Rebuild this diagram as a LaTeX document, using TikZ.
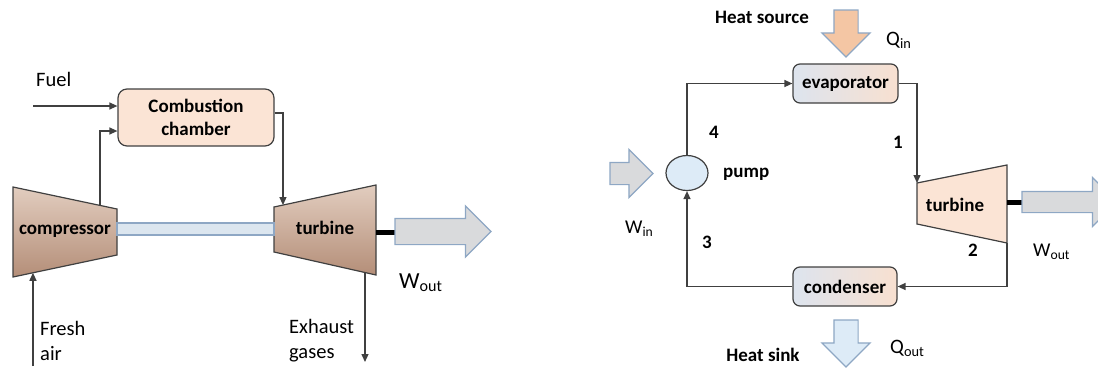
\documentclass[tikz,border=0pt]{standalone}
\usepackage{fontspec}
\setmainfont{Carlito}
\usetikzlibrary{arrows.meta,positioning,shapes.geometric,shapes.arrows,calc}

\definecolor{linea}{HTML}{404040}
\definecolor{pesca}{HTML}{FBE4D5}
\definecolor{pescaQ}{HTML}{F4C6A4}
\definecolor{azzurro}{HTML}{DDEBF7}
\definecolor{grigio}{HTML}{D9DADC}
\definecolor{bordoblu}{HTML}{8EA7C4}
\definecolor{marrone1}{HTML}{E2CDBF}
\definecolor{marrone2}{HTML}{B48E78}
\definecolor{gradsx}{HTML}{DDE4EE}
\definecolor{gradmid}{HTML}{CF9B7A}
\definecolor{graddx}{HTML}{F8E0D0}

\tikzset{
    flow/.style={draw=linea, line width=1.3pt, -{Triangle[length=8pt,width=7pt]}},
    lbl/.style={font=\fontsize{20.5}{25}\selectfont, inner sep=0pt},
    bld/.style={font=\bfseries\fontsize{19}{23}\selectfont, inner sep=0pt},
    machine/.style={draw=linea, line width=1.2pt, top color=marrone1, bottom color=marrone2},
    bigarrow/.style={single arrow, draw=bordoblu, line width=1.2pt, fill=grigio,
        inner xsep=0pt, outer sep=0pt, minimum height=#1, anchor=tail},
    scambiatore/.style={draw=linea, line width=1.2pt, rounded corners=7pt,
        left color=gradsx, middle color=gradmid, right color=graddx,
        minimum width=105pt, minimum height=39pt, inner sep=0pt, font=\bfseries\fontsize{19}{23}\selectfont}
}

\begin{document}
\begin{tikzpicture}[x=1pt,y=-1pt]
    \useasboundingbox (0,0) rectangle (1098,367);
    \clip (0,0) rectangle (1098,367);

    % ---- Turbina a gas ----
    % Camera di combustione
    \node[draw=linea, line width=1.2pt, fill=pesca, rounded corners=9pt,
          minimum width=156pt, minimum height=57pt, align=center,
          font=\bfseries\fontsize{19}{23}\selectfont] (cc) at (196,117.5) {Combustion\\chamber};

    % Compressore
    \draw[machine] (13,187) coordinate (cmpA) -- (117,209) coordinate (cmpB)
        -- (117,255) coordinate (cmpC) -- (13,277) coordinate (cmpD) -- cycle;
    \node[bld] (cmp) at (65,231) {compressor};

    % Turbina
    \draw[machine] (274,207) coordinate (tbA) -- (376,185) coordinate (tbB)
        -- (376,275) coordinate (tbC) -- (274,252) coordinate (tbD) -- cycle;
    \node[bld] (tb) at (325,228) {turbine};

    % Albero
    \draw[draw=bordoblu, line width=1.2pt, fill=azzurro!70!grigio] (cmpB|-0,223) rectangle (tbA|-0,235);
    \draw[line width=5pt] (376,232) -- (395,232);
    \node[bigarrow=96pt, inner ysep=12.5pt, single arrow head extend=12.5pt] (wout1) at (395,231.5) {};
    \node[lbl, anchor=base west, font=\fontsize{23}{27}\selectfont] (wout1l) at (399,288) {W\textsubscript{out}};

    % Collegamenti
    \coordinate (fuelin) at (33,106);
    \coordinate (cmpout) at ($(cmpA)!0.837!(cmpB)$);
    \coordinate (airend) at ($(cmpD)!0.192!(cmpC)$);
    \coordinate (airin) at (airend|-0,366);
    \coordinate (tbin) at ($(tbA)!0.088!(tbB)$);
    \coordinate (exh) at ($(tbD)!0.892!(tbC)$);
    \coordinate (exhend) at (exh|-0,362);

    \draw[flow] (fuelin) -- (fuelin-|cc.west);
    \draw[flow] (cmpout) |- ($(cc.west)+(0,13.5)$);
    \draw[flow] ($(cc.east)+(0,-4.5)$) -| (tbin);
    \draw[flow] (airin) -- (airend);
    \draw[flow] (exh) -- (exhend);

    % Etichette
    \node[lbl, anchor=west] (fuel) at (36,79) {Fuel};
    \node[lbl, anchor=west, align=left] (air) at (40,340.5) {Fresh\\air};
    \node[lbl, anchor=west, align=left] (gas) at (289,340.5) {Exhaust\\gases};

    % ---- Ciclo Rankine ----
    \node[scambiatore] (ev) at (845.5,83.5) {evaporator};
    \node[scambiatore, minimum width=104pt] (cd) at (845,286.5) {condenser};
    \node[ellipse, draw=linea, line width=1.2pt, fill=azzurro, minimum width=42pt,
          minimum height=35pt, inner sep=0pt] (pump) at (687,173) {};
    \node[bld, anchor=west] (pumpl) at (723,174) {pump};

    % Turbina
    \draw[draw=linea, line width=1.2pt, fill=pesca] (917,183) coordinate (trA) -- (1007,165) coordinate (trB)
        -- (1007,243) coordinate (trC) -- (917,224) coordinate (trD) -- cycle;
    \node[bld] (tr) at (955,205) {turbine};
    \draw[line width=5pt] (1007,202) -- (1022,202);
    \node[bigarrow=95pt, inner ysep=10pt, single arrow head extend=14pt] (wout2) at (1022,202) {};

    % Frecce di calore e lavoro
    \node[bigarrow=47pt, fill=pescaQ, inner ysep=11.5pt, single arrow head extend=12pt, rotate=-90] (qin) at (846,10) {};
    \node[bigarrow=47pt, fill=azzurro, inner ysep=11.5pt, single arrow head extend=12pt, rotate=-90] (qout) at (846,320) {};
    \node[bigarrow=43pt, inner ysep=10.5pt, single arrow head extend=13pt] (win) at (610,173.5) {};

    % Ciclo
    \draw[flow] (pump.north) |- (ev.west);
    \draw[flow] (ev.east) -| (trA);
    \draw[flow] (trC) |- (cd.east);
    \draw[flow] (cd.west) -| (pump.south);

    % Etichette
    \node[bld] (hsrc) at (762,17) {Heat source};
    \node[bld] (hsnk) at (763,355) {Heat sink};
    \node[lbl, anchor=base west] (qinl) at (886,45) {Q\textsubscript{in}};
    \node[lbl, anchor=base west] (qoutl) at (890,353) {Q\textsubscript{out}};
    \node[lbl, anchor=base west, font=\fontsize{19.5}{23}\selectfont] (winl) at (625,233) {W\textsubscript{in}};
    \node[lbl, anchor=base west, font=\fontsize{19.5}{23}\selectfont] (wout2l) at (1033,256) {W\textsubscript{out}};
    \node[bld] (p4) at (714,132) {4};
    \node[bld] (p1) at (898,142) {1};
    \node[bld] (p3) at (707,242) {3};
    \node[bld] (p2) at (973,250) {2};
\end{tikzpicture}
\end{document}
